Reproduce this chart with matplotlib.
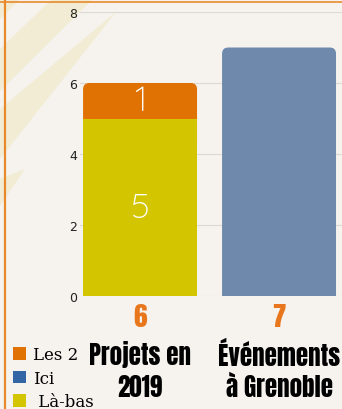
import matplotlib
matplotlib.use("Agg")
import matplotlib.pyplot as plt
from matplotlib.patches import FancyBboxPatch, Patch, Polygon
from matplotlib.lines import Line2D

categories = ["Projets en\n2019", "Événements\nà Grenoble"]
totals = ["6", "7"]
labasse = [5, 0]
les2 = [1, 0]
ici = [0, 7]
legend_labels = ["Les 2", "Ici", " Là-bas"]
yticks = [0, 2, 4, 6, 8]

C_ORANGE = "#e07203"
C_YELLOW = "#d3c500"
C_BLUE_BAR = "#6e89ab"
C_BLUE_LEG = "#3465a4"
BG = "#f6f3ef"
BORDER = "#e88a2c"

W, H, DPI = 342, 410, 100
fig = plt.figure(figsize=(W / DPI, H / DPI), dpi=DPI, facecolor=BG)

def px(pts):
    return [(x / W, 1 - y / H) for x, y in pts]

stripe_col = "#f1ecd3"
for pts in [
    [(0, 0), (20, 0), (0, 20)],
    [(52, 0), (93, 0), (0, 92), (0, 50)],
    [(116, 13), (0, 160), (0, 110)],
    [(25, 170), (0, 207), (0, 180)],
]:
    fig.patches.append(Polygon(px(pts), closed=True, transform=fig.transFigure,
                               facecolor=stripe_col, edgecolor="none", zorder=-5))

fig.add_artist(Line2D([4.5 / W, 4.5 / W], [0, 1], color=BORDER, lw=1.6,
                      transform=fig.transFigure))
fig.add_artist(Line2D([0, 1], [1 - 2.5 / H, 1 - 2.5 / H], color=BORDER, lw=1.2,
                      transform=fig.transFigure))

left, right, top, bottom = 80, 342, 13, 297
ax = fig.add_axes([left / W, 1 - bottom / H, (right - left) / W, (bottom - top) / H])
ax.set_facecolor("none")
ax.set_zorder(2)
ax.set_xlim(-0.432, 1.453)
ax.set_ylim(0, 8.0001)
for s in ax.spines.values():
    s.set_visible(False)
ax.set_yticks(yticks)
ax.set_yticklabels([str(t) for t in yticks], fontsize=9, color="#222222")
ax.tick_params(axis="y", length=0, pad=2)
ax.set_xticks([])
ax.grid(axis="y", color="#dcd8d3", lw=0.8)
ax.set_axisbelow(True)

x = [0, 1]
width = 0.82
b_yel = ax.bar(x, labasse, width, color=C_YELLOW, zorder=3)
b_org = ax.bar(x, les2, width, bottom=labasse, color=C_ORANGE, zorder=2)
b_blue = ax.bar(x, ici, width, bottom=[a + b for a, b in zip(labasse, les2)],
                color=C_BLUE_BAR, zorder=2)

rx = 0.045
aspect = (8 / 284) / (1.885 / 262)
for bars in (b_org, b_blue):
    for r in bars:
        if r.get_height() <= 0:
            continue
        r.set_visible(False)
        y0 = r.get_y() - 1 if r.get_y() > 0 else r.get_y() - 0.5
        p = FancyBboxPatch((r.get_x(), y0), r.get_width(), r.get_y() + r.get_height() - y0,
                           boxstyle=f"round,pad=0,rounding_size={rx}",
                           mutation_aspect=aspect, facecolor=r.get_facecolor(),
                           edgecolor="none", zorder=2, clip_on=True)
        ax.add_patch(p)

thin = ["Quicksand", "Josefin Sans", "Raleway", "Lato", "DejaVu Sans"]
for xi, v in zip(x, labasse):
    if v > 0:
        ax.text(xi, v / 2, str(v), ha="center", va="center", color="white",
                fontsize=25, family=thin, zorder=5)
for xi, v, b in zip(x, les2, labasse):
    if v > 0:
        ax.text(xi, b + v / 2, str(v), ha="center", va="center", color="white",
                fontsize=25, family=thin, zorder=5)

cond = ["Anton", "Oswald", "Roboto Condensed", "Barlow Condensed",
        "Liberation Sans Narrow", "DejaVu Sans"]
tr = ax.get_xaxis_transform()
for xi, t, c in zip(x, totals, categories):
    l1, l2 = c.split("\n")
    ax.text(xi, -0.072, t, transform=tr, ha="center", va="center", color="#e8761c",
            fontsize=19.5, family=cond)
    ax.text(xi, -0.203, l1, transform=tr, ha="center", va="center",
            color="black", fontsize=18, family=cond)
    ax.text(xi, -0.32, l2, transform=tr, ha="center", va="center",
            color="black", fontsize=18, family=cond)

handles = [Patch(facecolor=C_ORANGE), Patch(facecolor=C_BLUE_LEG), Patch(facecolor=C_YELLOW)]
fig.legend(handles, legend_labels, loc="upper left", bbox_to_anchor=(13 / W, 1 - 347 / H),
           frameon=False, prop={"family": "DejaVu Serif", "size": 12},
           handlelength=0.8, handleheight=0.8, handletextpad=0.4, labelspacing=0.4,
           borderpad=0, borderaxespad=0)

fig.savefig("out.png", dpi=DPI, facecolor=BG)
